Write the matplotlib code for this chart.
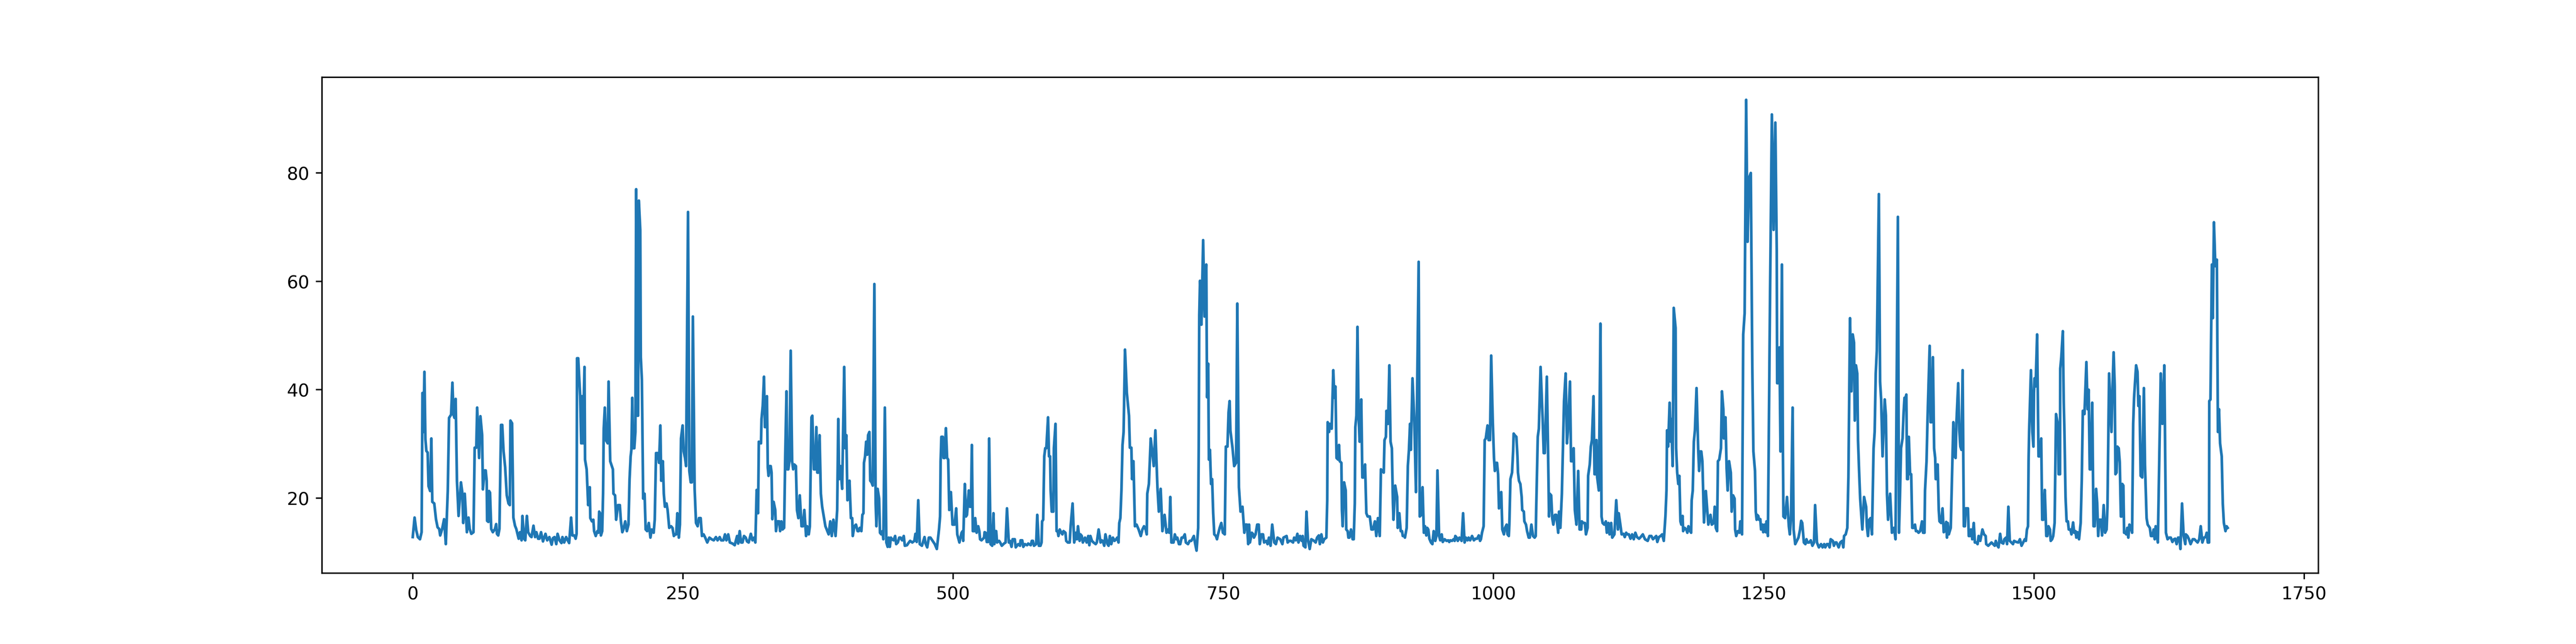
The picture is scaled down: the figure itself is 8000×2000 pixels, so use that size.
import numpy as np
import matplotlib
matplotlib.use("Agg")
import matplotlib.pyplot as plt

# (index, value) pairs, in chunks of ~155 samples
part_a = [(0, 12.8), (1.7, 16.4), (3.2, 14.1), (4.7, 12.8), (6.7, 12.4), (8.2, 13.7), (9.0, 39.4), (9.9, 32.2),
          (10.8, 43.3), (11.7, 30.9), (12.6, 28.7), (13.8, 28.4), (14.6, 22.2), (16.1, 21.3), (17.2, 31.0),
          (18.1, 19.3), (19.9, 19.0), (21.5, 16.1), (23.0, 14.6), (24.5, 14.3), (25.4, 13.1), (27.2, 14.3),
          (29.0, 16.1), (30.6, 11.5), (32.4, 21.3), (33.6, 34.8), (35.5, 35.4), (36.7, 41.3), (37.7, 35.4),
          (38.6, 34.8), (39.7, 38.3), (40.9, 23.2), (42.4, 16.7), (44.6, 22.9), (45.8, 21.1), (46.7, 15.4),
          (48.1, 20.8), (50.1, 13.7), (51.6, 16.4), (52.7, 14.3), (54.2, 13.4), (56.2, 13.7), (57.3, 29.3),
          (58.8, 29.3), (59.6, 36.7), (61.4, 27.4), (62.6, 35.1), (64.2, 31.6), (64.9, 21.6), (66.5, 25.1),
          (67.5, 25.1), (68.4, 23.2), (68.8, 15.8), (70.0, 15.6), (70.6, 21.3), (71.5, 21.0), (72.6, 14.3),
          (74.1, 13.7), (76.1, 14.3), (77.2, 15.2), (77.9, 13.4), (79.1, 13.1), (80.2, 14.3), (81.7, 33.5),
          (82.8, 33.5), (84.0, 28.7), (85.5, 25.7), (87.0, 20.5), (88.6, 19.0), (89.8, 18.7), (90.4, 34.3),
          (91.9, 33.8), (93.1, 16.4), (94.6, 14.9), (95.8, 14.3), (96.9, 13.4), (98.0, 12.5), (99.2, 13.7),
          (100.7, 12.2), (101.5, 16.7), (103.0, 12.5), (104.1, 12.2), (105.6, 16.7), (106.8, 13.7), (108.7, 13.0),
          (109.9, 12.8), (111.7, 14.9), (113.2, 12.8), (114.4, 13.7), (116.0, 12.5), (117.2, 12.5), (118.7, 13.7),
          (120.5, 12.0), (122.8, 13.4), (124.4, 12.2), (126.4, 12.8), (128.5, 11.4), (129.7, 12.6), (131.2, 12.8),
          (132.8, 11.5), (134.0, 13.4), (135.8, 12.2), (137.6, 11.7), (138.5, 12.8), (140.1, 11.8), (141.9, 12.8),
          (143.4, 12.2), (144.7, 11.7), (146.5, 16.4), (147.7, 13.1), (149.5, 13.1), (150.7, 12.5), (151.6, 13.4),
          (152.0, 45.8), (153.1, 45.8)]

part_b = [(154.9, 38.8), (155.9, 30.1), (156.6, 38.8), (157.4, 30.1), (158.9, 44.2), (159.4, 27.1), (160.9, 25.3),
          (162.3, 18.7), (163.8, 22.0), (164.3, 16.3), (165.8, 15.7), (167.1, 16.0), (167.8, 13.9), (169.3, 13.0),
          (170.8, 13.9), (171.8, 13.6), (172.5, 17.5), (173.3, 17.2), (174.1, 13.1), (175.3, 13.9), (176.1, 20.8),
          (176.7, 32.8), (177.7, 36.7), (178.7, 30.7), (180.4, 30.1), (181.2, 41.5), (182.7, 26.8), (183.7, 26.2),
          (185.2, 25.3), (185.7, 20.8), (187.2, 20.5), (188.2, 16.0), (189.9, 18.7), (191.6, 18.7), (192.6, 15.7),
          (193.9, 13.7), (194.9, 14.2), (196.6, 15.7), (198.1, 13.9), (199.6, 15.1), (200.6, 23.5), (201.6, 27.7),
          (202.3, 28.9), (203.1, 38.5), (203.9, 29.2), (205.0, 29.2), (206.0, 32.2), (206.7, 77.0), (207.8, 35.2),
          (208.5, 35.2), (209.2, 74.9), (210.5, 69.5), (211.0, 46.0), (212.0, 41.8), (213.2, 19.9), (214.5, 20.8),
          (215.5, 14.2), (216.9, 13.9), (218.4, 15.4), (219.9, 12.7), (221.1, 14.2), (222.9, 13.6), (223.9, 16.0),
          (225.1, 28.3), (226.7, 28.3), (227.9, 26.5), (229.1, 33.4), (229.9, 23.2), (231.4, 26.8), (232.3, 20.8),
          (233.3, 18.4), (234.8, 19.0), (235.8, 17.8), (237.3, 14.5), (239.0, 14.8), (240.3, 14.5), (241.6, 13.0),
          (242.8, 13.3), (243.8, 13.3), (244.8, 17.2), (246.2, 12.7), (247.2, 15.1), (248.2, 31.0), (249.7, 33.4),
          (250.7, 28.6), (251.9, 27.4), (252.9, 25.9), (254.7, 72.8), (255.9, 25.0), (257.2, 22.9), (258.2, 22.9),
          (259.2, 53.5), (260.8, 21.7), (262.1, 15.4), (263.6, 14.8), (264.8, 16.3), (266.4, 16.3), (267.6, 13.0),
          (269.1, 13.3), (270.6, 12.7), (272.5, 11.8), (274.5, 12.7), (276.5, 12.4), (278.5, 12.2), (280.5, 12.8),
          (282.0, 12.2), (284.0, 12.8), (285.4, 12.2), (287.4, 12.2), (288.9, 13.3), (290.2, 12.2), (291.9, 13.3),
          (293.4, 11.8), (295.9, 11.6), (297.9, 11.3), (298.9, 12.1), (300.1, 13.0), (301.1, 11.6), (302.5, 13.9),
          (303.8, 11.8), (305.1, 11.8), (306.5, 13.0), (308.1, 12.7)]

part_c = [(309.3, 12.0), (310.8, 11.8), (312.8, 13.4), (314.3, 12.2), (315.8, 12.7), (317.0, 11.8), (318.2, 21.5),
          (319.5, 17.2), (320.2, 30.4), (322.2, 30.1), (322.7, 34.6), (323.8, 37.0), (325.0, 42.4), (325.8, 33.1),
          (326.8, 33.1), (327.7, 38.8), (328.5, 25.6), (329.2, 24.1), (330.2, 25.9), (331.2, 25.9), (332.0, 24.7),
          (332.7, 16.1), (333.9, 19.3), (335.4, 17.8), (336.1, 13.9), (337.3, 15.7), (339.1, 15.7), (339.9, 13.9),
          (341.1, 15.7), (342.1, 14.2), (343.6, 14.5), (344.6, 27.4), (345.8, 39.7), (346.5, 25.3), (347.5, 25.3),
          (348.5, 26.8), (349.7, 47.2), (351.0, 26.8), (352.0, 25.3), (353.0, 26.2), (354.5, 25.9), (355.5, 17.8),
          (356.8, 16.3), (358.1, 20.5), (359.7, 14.8), (361.0, 14.8), (362.3, 17.8), (363.9, 13.0), (364.9, 14.8),
          (366.4, 13.3), (367.4, 14.8), (368.9, 34.9), (369.7, 35.2), (371.1, 25.3), (372.4, 25.3), (373.4, 33.1),
          (374.3, 24.7), (375.3, 24.7), (376.4, 31.6), (377.6, 20.8), (378.8, 18.4), (380.3, 16.6), (381.8, 14.8),
          (384.8, 13.3), (386.3, 15.7), (387.7, 13.0), (389.2, 16.0), (391.2, 13.0), (392.7, 17.8), (393.7, 34.6),
          (394.5, 23.5), (395.7, 25.9), (397.3, 21.7), (399.2, 44.2), (400.2, 29.2), (401.2, 31.6), (402.2, 19.6),
          (403.2, 19.9), (404.1, 23.2), (405.4, 16.3), (406.6, 16.3), (407.1, 13.0), (408.6, 14.8), (410.1, 15.1),
          (411.6, 13.9), (412.6, 13.9), (413.6, 14.5), (415.1, 13.9), (416.0, 16.9), (417.0, 17.2), (417.5, 26.5),
          (418.5, 27.7), (419.5, 30.4), (420.5, 28.0), (421.3, 31.6), (422.5, 32.2), (423.3, 23.2), (424.5, 22.9),
          (425.6, 22.3), (427.1, 59.5), (428.3, 19.0), (429.0, 14.8), (430.1, 21.7), (431.5, 19.9), (432.3, 13.6),
          (433.5, 13.3), (434.6, 13.9), (435.4, 12.4), (436.8, 36.7), (438.2, 11.8), (439.4, 11.0), (440.4, 12.7),
          (441.4, 11.0), (442.4, 12.7), (443.4, 12.4), (444.9, 12.2), (446.3, 13.0), (447.3, 11.5), (448.8, 11.8),
          (450.1, 12.7), (451.3, 12.7), (452.8, 12.2), (454.3, 13.0), (455.3, 11.2), (457.3, 11.3), (459.0, 11.8),
          (460.2, 12.1), (462.2, 11.8)]

part_d = [(464.1, 12.1), (465.1, 13.4), (466.3, 11.9), (467.7, 19.6), (469.1, 11.5), (471.1, 11.2), (473.5, 12.8),
          (474.5, 11.6), (476.0, 10.9), (477.5, 12.7), (479.0, 12.7), (483.0, 11.5), (484.9, 10.6), (485.9, 12.4),
          (486.9, 14.2), (487.9, 16.6), (488.4, 26.8), (489.1, 31.3), (490.4, 31.3), (491.1, 27.4), (492.1, 27.4),
          (493.3, 32.9), (494.4, 27.4), (495.4, 27.1), (496.4, 17.8), (497.9, 21.1), (499.4, 15.1), (501.3, 15.1),
          (502.8, 18.1), (503.8, 13.3), (505.8, 11.8), (507.8, 13.6), (508.8, 13.9), (509.3, 12.1), (510.8, 22.6),
          (511.9, 16.6), (512.8, 16.9), (514.5, 21.4), (515.5, 18.4), (516.5, 18.4), (517.3, 29.8), (518.2, 13.9),
          (519.7, 13.9), (520.4, 16.3), (521.7, 13.6), (523.2, 14.8), (524.2, 13.9), (524.9, 12.4), (526.2, 12.2),
          (528.6, 12.7), (529.1, 13.7), (530.1, 13.6), (531.1, 11.9), (532.4, 11.9), (533.3, 31.0), (534.6, 11.5),
          (536.1, 11.2), (537.3, 17.2), (538.1, 11.5), (538.8, 13.9), (539.8, 13.9), (540.6, 11.8), (542.5, 12.1),
          (543.5, 11.8), (545.0, 11.2), (547.0, 11.6), (548.5, 11.8), (549.8, 18.1), (551.5, 11.8), (552.5, 12.1),
          (554.0, 11.0), (555.0, 12.4), (557.0, 12.4), (557.9, 10.9), (560.2, 11.5), (561.9, 11.2), (562.4, 12.2),
          (563.9, 12.2), (564.9, 11.0), (566.4, 11.5), (568.4, 11.3), (569.4, 11.6), (571.8, 11.3), (572.8, 12.1),
          (573.8, 12.1), (574.8, 11.2), (576.8, 11.5), (577.8, 16.9), (579.3, 11.2), (580.8, 11.2), (581.8, 11.8),
          (582.3, 15.7), (583.3, 16.0), (584.3, 27.7), (585.2, 29.2), (586.2, 29.2), (587.8, 34.9), (588.7, 27.7),
          (589.7, 27.7), (590.2, 21.4), (591.2, 17.5), (592.7, 17.5), (593.2, 29.2), (594.7, 33.7), (595.7, 13.9),
          (596.7, 13.9), (597.4, 13.0), (598.6, 14.2), (600.1, 13.6), (601.1, 13.3), (602.1, 13.9), (603.9, 13.6),
          (604.6, 12.1), (606.1, 11.8), (607.8, 11.8), (608.7, 14.8), (610.5, 19.0), (612.0, 11.8), (613.5, 13.6),
          (614.5, 12.4), (615.5, 14.8), (617.0, 12.1), (617.8, 13.3)]

part_e = [(619.0, 13.0), (620.0, 11.8), (622.0, 12.7), (623.5, 11.8), (625.0, 13.0), (626.0, 11.3), (627.0, 13.0),
          (628.4, 12.1), (629.9, 11.8), (631.9, 11.5), (632.9, 11.8), (634.6, 14.2), (636.4, 11.8), (637.4, 12.2),
          (638.4, 12.1), (639.8, 11.2), (640.9, 13.3), (642.8, 11.5), (643.8, 11.2), (645.0, 13.0), (646.3, 11.5),
          (647.8, 12.7), (649.3, 12.1), (650.8, 12.4), (651.8, 12.7), (653.0, 11.8), (653.7, 15.4), (654.7, 16.3),
          (655.7, 21.4), (656.7, 29.8), (657.7, 32.2), (659.0, 47.4), (660.7, 39.4), (662.7, 35.2), (663.5, 29.3),
          (664.9, 29.3), (665.5, 23.5), (666.8, 26.8), (668.2, 14.8), (669.7, 15.1), (671.6, 14.2), (673.6, 13.0),
          (675.1, 14.2), (676.6, 14.8), (678.1, 14.2), (679.1, 13.3), (679.6, 20.8), (681.1, 22.6), (682.8, 31.0),
          (684.5, 28.0), (685.6, 25.9), (687.1, 32.5), (689.0, 22.0), (690.3, 17.5), (692.0, 21.7), (693.6, 13.9),
          (695.6, 16.9), (697.4, 13.6), (698.9, 14.2), (699.9, 13.6), (700.9, 20.2), (701.9, 11.8), (703.9, 11.8),
          (705.1, 13.3), (706.4, 12.4), (707.4, 12.7), (708.9, 11.5), (710.1, 11.5), (711.4, 12.7), (712.8, 12.7),
          (714.3, 13.3), (715.3, 11.8), (717.3, 11.5), (718.8, 12.1), (720.3, 12.1), (721.2, 12.4), (722.7, 13.0),
          (723.7, 11.8), (725.2, 10.3), (726.7, 14.5), (727.2, 29.2), (727.7, 53.8), (728.4, 60.1), (729.7, 52.0),
          (731.3, 67.6), (732.6, 53.5), (734.2, 63.1), (734.9, 38.6), (736.0, 44.8), (736.6, 27.1), (737.6, 28.9),
          (738.6, 22.6), (739.6, 23.5), (740.6, 17.2), (741.6, 13.3), (743.1, 13.0), (744.1, 12.4), (745.1, 13.3),
          (746.6, 14.5), (748.1, 15.4), (749.6, 13.6), (751.3, 13.3), (752.3, 29.5), (753.8, 29.5), (754.8, 35.8),
          (755.8, 37.9), (756.5, 32.5), (758.5, 29.2), (760.0, 25.9), (761.8, 26.5), (762.9, 55.9), (764.4, 22.0),
          (765.9, 17.5), (767.7, 18.4), (769.4, 13.6), (770.4, 15.1), (771.9, 15.1), (773.0, 11.5)]

part_f = [(773.8, 15.1), (774.6, 11.8), (776.3, 13.6), (777.3, 13.4), (778.3, 12.7), (779.8, 13.3), (781.3, 15.1),
          (782.7, 15.1), (783.7, 11.5), (785.2, 13.3), (786.7, 13.3), (787.7, 11.8), (789.7, 12.1), (790.9, 11.5),
          (792.2, 12.7), (793.7, 11.2), (795.2, 15.1), (797.1, 11.8), (798.6, 11.5), (800.1, 12.7), (802.6, 12.4),
          (804.6, 11.5), (805.6, 12.7), (808.5, 13.0), (809.5, 11.8), (811.0, 12.1), (812.5, 12.1), (814.5, 11.8),
          (815.5, 12.7), (817.0, 12.2), (818.5, 13.4), (819.5, 11.8), (821.0, 13.0), (822.5, 12.1), (823.4, 13.0),
          (824.2, 11.2), (825.9, 10.9), (826.9, 17.5), (828.2, 12.4), (829.9, 10.6), (831.4, 12.4), (833.9, 12.1),
          (835.4, 11.8), (836.7, 12.7), (838.3, 13.1), (839.3, 11.5), (840.7, 13.3), (842.1, 11.8), (843.3, 12.4),
          (845.3, 12.7), (846.1, 19.6), (846.5, 34.0), (847.8, 32.2), (848.5, 33.7), (850.2, 32.8), (851.7, 43.6),
          (852.7, 38.5), (853.7, 40.6), (854.7, 27.4), (856.2, 27.1), (857.0, 29.8), (857.7, 26.8), (859.2, 26.5),
          (859.7, 17.8), (860.4, 14.8), (861.7, 22.9), (863.2, 21.4), (863.7, 14.2), (865.0, 13.9), (865.7, 12.7),
          (866.6, 12.7), (868.1, 14.2), (869.6, 12.4), (870.6, 12.4), (871.6, 19.0), (872.1, 33.1), (873.1, 35.2),
          (874.1, 51.6), (875.1, 35.2), (876.1, 30.4), (877.6, 38.2), (878.6, 23.8), (879.6, 23.8), (881.1, 26.2),
          (882.3, 17.2), (883.5, 16.6), (885.5, 16.6), (887.0, 14.2), (888.5, 14.2), (890.2, 15.7), (891.5, 13.0),
          (893.0, 16.3), (894.7, 13.0), (895.8, 25.3), (898.4, 24.7), (899.1, 30.7), (900.4, 31.3), (900.9, 36.1),
          (901.7, 33.7), (902.4, 33.7), (903.6, 44.5), (904.7, 30.4), (905.9, 29.2), (906.9, 19.0), (907.4, 16.0),
          (909.0, 22.3), (910.8, 20.2), (911.3, 14.5), (912.8, 17.2), (914.1, 13.9), (915.3, 13.9), (916.0, 13.0),
          (917.3, 13.0), (918.0, 12.7), (919.6, 14.5), (920.7, 25.9), (921.7, 28.9), (922.7, 33.7), (923.5, 28.9),
          (925.0, 42.1), (926.7, 34.0), (928.2, 21.1)]

part_g = [(930.7, 63.6), (931.7, 16.6), (933.2, 16.9), (934.3, 22.0), (935.5, 13.6), (936.6, 14.8), (937.8, 13.1),
          (938.6, 14.5), (939.6, 14.2), (940.6, 12.5), (942.1, 11.8), (943.4, 11.5), (944.6, 13.9), (946.1, 12.1),
          (947.1, 13.0), (948.1, 25.1), (949.6, 13.0), (950.7, 12.2), (952.0, 13.3), (953.0, 11.9), (954.7, 12.4),
          (956.5, 12.1), (958.0, 12.2), (959.0, 11.9), (960.0, 12.2), (961.5, 12.1), (963.0, 12.4), (964.0, 12.1),
          (964.6, 13.0), (965.9, 12.7), (966.9, 12.1), (968.4, 12.7), (969.4, 12.5), (970.4, 12.1), (971.8, 17.2),
          (973.2, 11.8), (974.4, 12.7), (975.9, 12.2), (976.9, 12.7), (978.3, 12.2), (980.1, 13.0), (981.8, 12.2),
          (983.3, 12.5), (984.8, 12.5), (986.3, 13.1), (987.5, 12.1), (988.3, 12.4), (989.3, 13.6), (990.8, 14.8),
          (991.8, 30.7), (992.8, 31.0), (994.4, 33.4), (995.4, 30.7), (996.7, 30.7), (997.8, 46.3), (999.2, 34.6),
          (1000.4, 27.4), (1001.2, 25.0), (1002.4, 26.5), (1003.2, 26.5), (1004.2, 24.4), (1005.0, 18.1),
          (1006.2, 20.8), (1007.1, 21.1), (1008.1, 14.2), (1009.6, 13.3), (1010.6, 14.5), (1012.1, 15.1),
          (1012.9, 13.3), (1014.1, 13.0), (1014.6, 15.1), (1015.6, 23.5), (1017.1, 24.7), (1018.1, 28.6),
          (1018.6, 31.9), (1019.6, 31.6), (1021.1, 31.3), (1022.1, 27.7), (1022.6, 24.7), (1023.5, 23.2),
          (1024.8, 22.6), (1026.0, 20.2), (1026.5, 17.8), (1028.0, 17.5), (1028.5, 15.7), (1030.0, 15.1),
          (1031.0, 13.9), (1032.5, 12.7), (1033.5, 12.7), (1035.0, 15.1), (1036.5, 13.0), (1038.0, 12.7),
          (1039.0, 13.0), (1039.4, 17.5), (1040.4, 26.8), (1040.9, 31.3), (1041.9, 32.8), (1043.5, 44.2),
          (1045.4, 34.6), (1046.4, 28.3), (1047.4, 28.3), (1049.3, 42.4), (1050.6, 26.2), (1051.3, 16.6),
          (1052.0, 20.8), (1053.3, 20.5), (1054.3, 16.3), (1055.3, 15.1), (1056.8, 16.9), (1058.0, 16.9),
          (1059.8, 13.6), (1060.6, 17.5), (1061.8, 14.5), (1063.2, 20.8), (1063.9, 26.8), (1065.2, 37.9),
          (1066.7, 43.0), (1067.9, 30.1), (1068.7, 32.2), (1070.7, 41.5), (1071.7, 26.8), (1072.9, 26.8),
          (1074.1, 29.2), (1075.2, 17.8), (1076.7, 15.1), (1078.3, 25.0), (1079.6, 14.2), (1081.1, 14.2),
          (1081.6, 15.7), (1083.1, 15.4)]

part_h = [(1084.5, 15.4), (1085.5, 13.3), (1087.0, 14.5), (1087.5, 24.1), (1089.0, 26.2), (1090.0, 29.5),
          (1091.0, 30.7), (1092.5, 38.8), (1093.4, 24.4), (1094.4, 24.4), (1095.2, 30.7), (1095.9, 23.8),
          (1097.4, 21.4), (1098.9, 52.2), (1099.9, 16.6), (1100.9, 15.4), (1102.4, 15.1), (1103.9, 15.7),
          (1104.8, 13.6), (1106.3, 15.4), (1107.3, 13.3), (1108.8, 15.4), (1109.8, 12.7), (1111.8, 13.3),
          (1113.5, 19.6), (1115.1, 14.2), (1115.8, 17.2), (1117.3, 15.1), (1118.5, 13.3), (1120.2, 13.4),
          (1121.4, 12.8), (1122.7, 13.6), (1123.7, 13.3), (1125.2, 13.3), (1126.7, 12.5), (1128.2, 13.3),
          (1129.7, 12.4), (1131.2, 13.6), (1132.7, 12.8), (1134.6, 12.5), (1136.1, 12.8), (1138.1, 13.3),
          (1140.1, 12.4), (1142.6, 12.1), (1144.3, 13.0), (1146.0, 13.0), (1147.5, 12.4), (1150.5, 13.0),
          (1151.5, 11.9), (1153.0, 12.8), (1154.5, 13.0), (1156.0, 13.3), (1157.5, 12.1), (1159.0, 16.6),
          (1160.0, 21.4), (1160.5, 32.5), (1161.5, 29.5), (1162.9, 37.6), (1163.9, 30.4), (1164.4, 34.6),
          (1165.7, 25.9), (1166.7, 55.1), (1168.4, 51.4), (1168.9, 29.2), (1169.9, 24.7), (1170.9, 22.6),
          (1171.9, 24.1), (1172.9, 15.7), (1173.7, 15.1), (1174.9, 16.7), (1175.4, 13.9), (1176.8, 14.5),
          (1178.3, 14.2), (1179.3, 13.6), (1180.3, 14.8), (1181.8, 13.9), (1182.8, 13.6), (1183.3, 19.6),
          (1184.3, 21.4), (1185.3, 30.4), (1186.3, 32.5), (1187.8, 40.3), (1189.3, 29.2), (1190.2, 25.0),
          (1191.2, 28.6), (1192.2, 28.6), (1193.2, 26.8), (1194.7, 15.5), (1196.4, 21.3), (1198.7, 15.1),
          (1200.7, 16.9), (1201.9, 15.1), (1203.7, 15.4), (1204.6, 18.4), (1205.6, 14.5), (1206.8, 13.9),
          (1207.6, 26.8), (1208.8, 27.1), (1210.4, 29.2), (1211.3, 39.7), (1212.6, 36.4), (1213.1, 31.0),
          (1214.6, 34.9), (1215.6, 25.6), (1216.6, 21.4), (1217.9, 26.8), (1219.5, 24.7), (1220.3, 17.5),
          (1221.6, 20.5), (1223.0, 19.9), (1223.5, 14.2), (1224.5, 13.0), (1226.0, 13.9), (1227.5, 13.6),
          (1228.3, 15.7), (1229.9, 13.3), (1231.0, 50.2), (1232.3, 54.1), (1233.7, 93.5), (1235.0, 67.3),
          (1236.4, 79.1)]

part_i = [(1238.0, 80.0), (1239.4, 44.2), (1240.4, 28.6), (1241.9, 25.0), (1242.6, 17.5), (1243.4, 16.0),
          (1243.9, 16.9), (1244.9, 16.7), (1245.6, 16.0), (1246.8, 16.1), (1247.5, 14.2), (1248.8, 15.1),
          (1249.5, 13.7), (1250.8, 15.1), (1251.8, 13.7), (1252.5, 15.7), (1253.8, 13.0), (1254.8, 34.6),
          (1255.8, 57.4), (1257.5, 90.8), (1259.1, 69.5), (1260.7, 89.3), (1262.0, 65.8), (1262.4, 41.2),
          (1263.2, 41.2), (1264.5, 47.8), (1265.5, 28.6), (1266.8, 63.1), (1267.7, 29.2), (1268.2, 16.6),
          (1269.7, 16.3), (1271.5, 20.2), (1273.2, 14.8), (1274.1, 13.3), (1275.2, 16.3), (1276.7, 36.7),
          (1277.6, 14.2), (1279.1, 11.5), (1280.6, 12.1), (1282.1, 12.7), (1283.6, 14.2), (1284.6, 15.8),
          (1285.6, 15.4), (1287.1, 11.8), (1288.5, 11.5), (1289.5, 12.4), (1290.5, 11.8), (1292.0, 11.8),
          (1293.5, 12.2), (1295.0, 11.2), (1296.5, 11.8), (1297.5, 18.7), (1299.2, 11.8), (1301.0, 10.9),
          (1303.0, 11.5), (1304.4, 10.9), (1305.9, 11.5), (1306.9, 10.9), (1308.4, 11.5), (1309.7, 11.5),
          (1310.9, 10.9), (1311.9, 12.4), (1313.9, 12.1), (1314.9, 11.2), (1316.1, 11.8), (1317.3, 11.8),
          (1319.3, 10.9), (1320.8, 11.8), (1322.6, 12.1), (1323.6, 10.9), (1324.3, 13.0), (1325.8, 13.3),
          (1327.3, 14.5), (1328.3, 23.8), (1329.8, 53.2), (1331.1, 39.7), (1332.3, 50.2), (1333.5, 48.7),
          (1334.2, 34.3), (1335.3, 44.5), (1336.5, 43.0), (1337.2, 30.7), (1338.2, 25.0), (1339.2, 19.9),
          (1339.7, 18.4), (1341.2, 14.2), (1342.8, 20.2), (1344.7, 18.4), (1345.4, 14.8), (1346.4, 13.0),
          (1347.6, 16.0), (1348.8, 16.3), (1350.1, 13.3), (1351.6, 29.2), (1352.6, 32.2), (1353.6, 43.0),
          (1354.6, 47.2), (1356.5, 76.1), (1357.6, 41.5), (1358.6, 38.2), (1359.9, 27.7), (1361.9, 38.2),
          (1363.0, 35.2), (1364.0, 20.8), (1365.0, 16.0), (1366.9, 20.8), (1368.6, 13.6), (1370.5, 14.5),
          (1371.9, 12.4), (1374.1, 71.9), (1375.1, 13.6), (1376.0, 20.2), (1377.0, 29.2), (1378.4, 31.0),
          (1379.4, 35.8), (1380.2, 38.5), (1381.2, 38.5), (1381.9, 39.1), (1382.6, 23.5), (1383.4, 23.5),
          (1384.2, 31.3), (1385.4, 24.4), (1386.4, 24.4), (1387.4, 14.5), (1388.9, 14.5), (1389.9, 15.1),
          (1390.8, 13.9), (1392.1, 13.9)]

part_j = [(1393.2, 13.6), (1394.7, 13.9), (1396.4, 15.7), (1397.4, 13.6), (1398.7, 13.6), (1399.2, 21.4),
          (1400.6, 26.8), (1401.6, 35.2), (1403.5, 48.1), (1404.3, 34.0), (1405.3, 34.0), (1406.5, 46.0),
          (1407.6, 29.2), (1408.6, 27.4), (1409.1, 23.5), (1409.9, 23.5), (1410.9, 26.2), (1411.9, 17.8),
          (1412.6, 15.7), (1414.1, 15.4), (1415.4, 18.1), (1416.5, 13.7), (1417.5, 13.9), (1418.8, 15.6),
          (1419.5, 12.7), (1420.2, 15.4), (1421.2, 13.3), (1423.0, 14.5), (1425.4, 34.0), (1426.5, 27.7),
          (1427.5, 27.4), (1428.2, 33.7), (1429.9, 41.2), (1430.9, 32.5), (1431.9, 29.5), (1432.9, 28.9),
          (1434.0, 43.6), (1435.1, 14.8), (1436.1, 14.8), (1436.9, 18.1), (1438.9, 18.1), (1439.7, 13.0),
          (1440.9, 13.0), (1441.7, 14.2), (1442.4, 13.9), (1442.9, 12.4), (1444.3, 15.4), (1445.3, 11.8),
          (1446.8, 11.8), (1447.8, 11.5), (1448.8, 13.0), (1450.3, 12.1), (1452.3, 14.2), (1453.8, 13.3),
          (1455.3, 13.0), (1455.8, 11.5), (1457.7, 11.2), (1459.2, 11.5), (1460.7, 11.8), (1462.2, 11.5),
          (1463.7, 11.2), (1464.7, 12.1), (1465.9, 11.3), (1467.2, 10.9), (1468.7, 13.4), (1469.9, 11.8),
          (1471.6, 11.6), (1472.6, 12.4), (1474.1, 12.7), (1475.1, 11.5), (1476.3, 18.4), (1477.6, 12.1),
          (1479.1, 11.8), (1480.6, 11.5), (1481.6, 12.1), (1483.6, 11.9), (1485.5, 11.8), (1487.0, 12.4),
          (1488.5, 11.2), (1490.0, 11.8), (1491.5, 12.4), (1492.5, 12.1), (1493.5, 14.2), (1494.5, 14.8),
          (1495.0, 26.8), (1495.5, 32.2), (1497.2, 43.6), (1498.5, 32.2), (1499.5, 29.5), (1500.0, 39.4),
          (1500.5, 42.1), (1501.5, 40.6), (1502.9, 50.2), (1504.2, 27.7), (1505.5, 27.7), (1506.7, 31.0),
          (1507.6, 16.0), (1508.6, 16.0), (1510.0, 21.5), (1511.4, 13.0), (1512.4, 13.0), (1513.4, 14.8),
          (1514.8, 14.2), (1515.5, 12.1), (1516.8, 12.4), (1517.8, 13.0), (1519.1, 15.4), (1520.4, 35.5),
          (1522.3, 33.4), (1522.8, 24.4), (1524.1, 24.4), (1524.3, 43.9), (1525.3, 46.0), (1526.7, 50.8),
          (1527.5, 38.2), (1528.2, 32.2), (1529.2, 20.2), (1530.2, 15.7), (1531.4, 15.7), (1532.2, 14.2),
          (1533.7, 14.2), (1534.7, 13.3), (1536.2, 15.5), (1537.2, 13.6), (1538.4, 13.9), (1539.2, 12.7),
          (1540.2, 13.7), (1541.7, 12.4), (1543.2, 15.4), (1544.2, 23.2), (1545.2, 36.1), (1546.2, 36.1),
          (1546.7, 35.5), (1548.5, 45.1)]

part_k = [(1549.6, 36.4), (1550.6, 40.0), (1551.6, 25.3), (1552.6, 25.3), (1553.9, 37.6), (1555.1, 14.8),
          (1556.2, 14.8), (1557.5, 21.7), (1558.5, 19.0), (1559.4, 13.0), (1560.5, 16.0), (1562.0, 16.0),
          (1563.0, 13.1), (1564.5, 18.7), (1565.8, 13.6), (1567.2, 14.2), (1568.0, 18.4), (1569.5, 43.0),
          (1571.7, 32.2), (1572.7, 40.6), (1573.7, 46.9), (1574.7, 40.6), (1575.4, 24.4), (1576.4, 24.7),
          (1577.1, 29.5), (1578.4, 29.2), (1579.4, 26.5), (1580.4, 16.6), (1581.1, 16.6), (1581.7, 22.6),
          (1582.7, 22.3), (1583.4, 13.6), (1584.4, 13.6), (1585.4, 13.3), (1586.3, 14.5), (1587.3, 12.7),
          (1588.3, 15.1), (1589.8, 14.5), (1590.8, 13.6), (1591.8, 33.7), (1592.6, 38.5), (1594.5, 44.5),
          (1595.8, 43.3), (1596.6, 37.0), (1597.6, 38.8), (1598.7, 24.1), (1600.2, 23.8), (1601.7, 40.3),
          (1602.7, 26.2), (1604.2, 16.3), (1605.2, 15.1), (1607.2, 14.5), (1608.2, 13.0), (1609.7, 13.0),
          (1610.7, 14.2), (1611.7, 12.4), (1612.6, 14.8), (1614.6, 11.8), (1617.3, 43.0), (1618.8, 33.7),
          (1620.6, 44.5), (1622.1, 13.6), (1623.6, 12.4), (1625.1, 12.7), (1626.6, 12.7), (1628.1, 11.9),
          (1629.5, 12.4), (1630.7, 12.5), (1632.0, 11.5), (1633.3, 12.7), (1634.5, 12.7), (1635.5, 10.6),
          (1637.0, 19.0), (1638.5, 13.0), (1640.0, 11.5), (1640.5, 13.3), (1642.0, 13.0), (1643.4, 12.4),
          (1644.9, 11.5), (1646.9, 12.4), (1648.4, 12.4), (1649.9, 12.1), (1651.4, 11.8), (1652.9, 12.4),
          (1654.3, 14.8), (1655.8, 11.8), (1657.3, 12.7), (1658.8, 12.8), (1659.8, 13.6), (1660.8, 11.8),
          (1662.0, 11.8), (1662.2, 37.9), (1663.3, 38.2), (1664.6, 63.1), (1665.5, 53.2), (1666.5, 70.9),
          (1667.8, 62.8), (1669.2, 64.0), (1670.2, 32.2), (1671.2, 36.4), (1672.2, 30.1), (1673.7, 27.7),
          (1674.7, 19.0), (1675.7, 15.4), (1677.2, 13.9), (1678.2, 14.8), (1679.2, 14.5)]

parts = [part_a, part_b, part_c, part_d, part_e, part_f, part_g, part_h, part_i, part_j, part_k]
series = np.array([p for part in parts for p in part])
series = series[np.argsort(series[:, 0], kind="stable")]

fig = plt.figure(figsize=(20, 5), dpi=400)
plt.plot(series[:, 0], series[:, 1])
plt.savefig("out.png", dpi=400)
